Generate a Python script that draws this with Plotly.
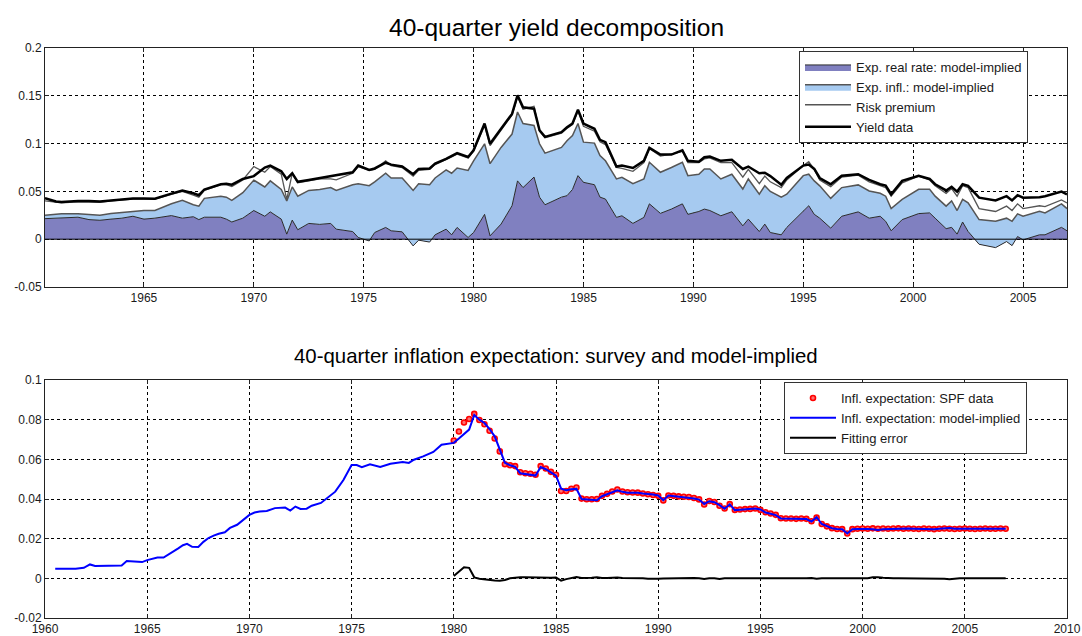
import plotly.graph_objects as go

# ---------------- Top panel: 40-quarter yield decomposition ----------------
yd_dates = [1960.5, 1961.0, 1961.25, 1962.0, 1962.5, 1963.0, 1963.5, 1964.0, 1964.5, 1965.0,
            1965.5, 1966.25, 1966.75, 1967.25, 1967.5, 1967.75, 1968.5, 1968.75, 1969.0, 1969.5,
            1970.0, 1970.5, 1970.75, 1971.25, 1971.5, 1971.75, 1972.0, 1972.5, 1973.0, 1973.5,
            1973.75, 1974.5, 1974.75, 1975.25, 1975.5, 1976.0, 1976.25, 1976.75, 1977.25, 1977.5,
            1978.0, 1978.25, 1978.75, 1979.0, 1979.25, 1979.75, 1980.0, 1980.5, 1980.75, 1981.25,
            1981.75, 1982.0, 1982.25, 1982.75, 1983.0, 1983.25, 1984.0, 1984.25, 1984.5, 1984.75,
            1985.0, 1985.5, 1985.75, 1986.0, 1986.5, 1986.75, 1987.25, 1987.75, 1988.0, 1988.5,
            1989.0, 1989.5, 1989.75, 1990.25, 1990.5, 1990.75, 1991.25, 1991.75, 1992.25, 1992.5,
            1993.0, 1993.25, 1993.5, 1994.0, 1994.25, 1995.0, 1995.25, 1995.5, 1995.75, 1996.25,
            1996.75, 1997.5, 1998.0, 1998.5, 1998.75, 1999.0, 1999.5, 2000.25, 2000.75, 2001.0,
            2001.5, 2001.75, 2002.0, 2002.25, 2002.5, 2003.0, 2003.75, 2004.25, 2004.5, 2004.75,
            2005.0, 2005.75, 2006.0, 2006.75, 2007.0]

# upper edge of the "expected real rate" area
exp_real_rate = [0.0215, 0.0220, 0.0230, 0.0230, 0.0205, 0.0198, 0.0210, 0.0220, 0.0240, 0.0210,
                 0.0220, 0.0247, 0.0220, 0.0235, 0.0205, 0.0230, 0.0230, 0.0210, 0.0180, 0.0220,
                 0.0300, 0.0240, 0.0286, 0.0210, 0.0053, 0.0200, 0.0099, 0.0165, 0.0155, 0.0165,
                 0.0105, 0.0080, 0.0018, -0.0018, 0.0070, 0.0123, 0.0088, 0.0077, -0.0070, -0.0010,
                 -0.0030, 0.0046, 0.0105, 0.0046, 0.0123, 0.0018, 0.0070, 0.0260, 0.0035, 0.0158,
                 0.0350, 0.0610, 0.0540, 0.0650, 0.0440, 0.0360, 0.0440, 0.0455, 0.0520, 0.0665,
                 0.0595, 0.0570, 0.0440, 0.0420, 0.0228, 0.0245, 0.0165, 0.0228, 0.0370, 0.0270,
                 0.0315, 0.0370, 0.0260, 0.0290, 0.0315, 0.0300, 0.0245, 0.0287, 0.0140, 0.0210,
                 0.0080, 0.0158, 0.0070, 0.0046, 0.0123, 0.0290, 0.0350, 0.0260, 0.0220, 0.0116,
                 0.0240, 0.0286, 0.0220, 0.0240, 0.0187, 0.0088, 0.0205, 0.0268, 0.0275, 0.0220,
                 0.0110, 0.0124, 0.0053, 0.0180, 0.0081, -0.0053, -0.0088, -0.0025, -0.0067, 0.0028,
                 -0.0007, 0.0046, 0.0046, 0.0124, 0.0088]

# upper edge of the "expected inflation" area (real rate + expected inflation)
exp_real_plus_infl = [0.0250, 0.0260, 0.0265, 0.0265, 0.0260, 0.0250, 0.0270, 0.0280, 0.0286, 0.0300,
                      0.0300, 0.0370, 0.0406, 0.0360, 0.0346, 0.0427, 0.0450, 0.0440, 0.0406, 0.0487,
                      0.0618, 0.0547, 0.0610, 0.0520, 0.0400, 0.0547, 0.0450, 0.0510, 0.0520, 0.0540,
                      0.0510, 0.0570, 0.0580, 0.0560, 0.0600, 0.0690, 0.0640, 0.0640, 0.0510, 0.0580,
                      0.0570, 0.0640, 0.0725, 0.0690, 0.0745, 0.0720, 0.0820, 0.0998, 0.0790, 0.0960,
                      0.1100, 0.1330, 0.1210, 0.1190, 0.0998, 0.0900, 0.0960, 0.1030, 0.1085, 0.1210,
                      0.1015, 0.1005, 0.0875, 0.0820, 0.0630, 0.0648, 0.0580, 0.0630, 0.0805, 0.0700,
                      0.0750, 0.0805, 0.0665, 0.0680, 0.0735, 0.0735, 0.0630, 0.0680, 0.0525, 0.0630,
                      0.0470, 0.0560, 0.0500, 0.0440, 0.0470, 0.0665, 0.0680, 0.0610, 0.0558, 0.0427,
                      0.0540, 0.0568, 0.0505, 0.0480, 0.0450, 0.0320, 0.0417, 0.0522, 0.0522, 0.0450,
                      0.0346, 0.0400, 0.0300, 0.0417, 0.0380, 0.0205, 0.0187, 0.0220, 0.0187, 0.0265,
                      0.0240, 0.0293, 0.0275, 0.0370, 0.0320]

# upper edge of the "risk premium" area (model-implied yield)
model_yield = [0.0400, 0.0390, 0.0380, 0.0390, 0.0390, 0.0385, 0.0400, 0.0410, 0.0420, 0.0420,
               0.0420, 0.0470, 0.0500, 0.0460, 0.0440, 0.0510, 0.0570, 0.0570, 0.0550, 0.0620,
               0.0760, 0.0700, 0.0760, 0.0680, 0.0415, 0.0690, 0.0590, 0.0610, 0.0630, 0.0630,
               0.0620, 0.0690, 0.0760, 0.0720, 0.0730, 0.0820, 0.0770, 0.0750, 0.0660, 0.0720,
               0.0730, 0.0780, 0.0830, 0.0860, 0.0890, 0.0850, 0.0920, 0.1190, 0.0980, 0.1140,
               0.1300, 0.1490, 0.1360, 0.1390, 0.1130, 0.1060, 0.1110, 0.1160, 0.1200, 0.1340,
               0.1180, 0.1130, 0.1020, 0.0990, 0.0750, 0.0740, 0.0710, 0.0800, 0.0950, 0.0870,
               0.0890, 0.0920, 0.0800, 0.0800, 0.0840, 0.0850, 0.0800, 0.0800, 0.0650, 0.0730,
               0.0580, 0.0660, 0.0600, 0.0540, 0.0620, 0.0770, 0.0810, 0.0730, 0.0620, 0.0550,
               0.0650, 0.0670, 0.0600, 0.0560, 0.0540, 0.0450, 0.0590, 0.0660, 0.0620, 0.0560,
               0.0480, 0.0530, 0.0450, 0.0560, 0.0540, 0.0320, 0.0290, 0.0346, 0.0300, 0.0370,
               0.0320, 0.0350, 0.0340, 0.0410, 0.0380]

yield_data = [0.0430, 0.0395, 0.0388, 0.0400, 0.0400, 0.0395, 0.0405, 0.0417, 0.0425, 0.0425,
              0.0424, 0.0477, 0.0510, 0.0480, 0.0460, 0.0520, 0.0575, 0.0580, 0.0570, 0.0630,
              0.0660, 0.0750, 0.0770, 0.0710, 0.0630, 0.0690, 0.0600, 0.0620, 0.0640, 0.0665,
              0.0670, 0.0700, 0.0770, 0.0725, 0.0740, 0.0800, 0.0780, 0.0760, 0.0680, 0.0735,
              0.0740, 0.0790, 0.0840, 0.0870, 0.0900, 0.0860, 0.0930, 0.1210, 0.0998, 0.1155,
              0.1310, 0.1505, 0.1380, 0.1365, 0.1140, 0.1070, 0.1120, 0.1170, 0.1210, 0.1355,
              0.1210, 0.1155, 0.1040, 0.1015, 0.0760, 0.0770, 0.0745, 0.0820, 0.0955, 0.0885,
              0.0885, 0.0930, 0.0820, 0.0810, 0.0857, 0.0865, 0.0820, 0.0830, 0.0735, 0.0760,
              0.0690, 0.0695, 0.0660, 0.0570, 0.0640, 0.0770, 0.0780, 0.0735, 0.0640, 0.0575,
              0.0664, 0.0680, 0.0620, 0.0575, 0.0560, 0.0470, 0.0610, 0.0664, 0.0630, 0.0575,
              0.0510, 0.0547, 0.0498, 0.0575, 0.0558, 0.0434, 0.0406, 0.0450, 0.0406, 0.0460,
              0.0434, 0.0440, 0.0450, 0.0498, 0.0470]

top_xticks = [1965, 1970, 1975, 1980, 1985, 1990, 1995, 2000, 2005]
top_yticks = [-0.05, 0, 0.05, 0.1, 0.15, 0.2]
top_ytext = ["-0.05", "0", "0.05", "0.1", "0.15", "0.2"]

# ---------------- Bottom panel: inflation expectation ----------------
early_model_dates = [1960.5, 1961.0, 1961.5, 1961.9, 1962.2, 1962.45, 1963.0, 1963.5, 1963.75, 1964.0,
                     1964.25, 1964.75, 1965.0, 1965.25, 1965.5, 1965.8, 1966.0, 1966.25, 1966.5, 1966.75,
                     1966.95, 1967.2, 1967.5, 1967.75, 1968.0, 1968.25, 1968.5, 1968.8, 1969.05, 1969.4,
                     1969.75, 1970.0, 1970.25, 1970.5, 1970.85, 1971.25, 1971.75, 1972.0, 1972.25, 1972.5,
                     1972.8, 1973.05, 1973.5, 1973.9, 1974.2, 1974.6, 1975.0, 1975.25, 1975.5, 1975.9,
                     1976.4, 1976.9, 1977.5, 1977.8, 1978.05, 1978.5, 1979.0, 1979.4, 1979.75]
early_model_infl = [0.0048, 0.0048, 0.0048, 0.0053, 0.0070, 0.0062, 0.0062, 0.0065, 0.0065, 0.0087,
                    0.0085, 0.0082, 0.0092, 0.0100, 0.0105, 0.0105, 0.0118, 0.0130, 0.0150, 0.0167,
                    0.0174, 0.0159, 0.0158, 0.0184, 0.0203, 0.0215, 0.0225, 0.0232, 0.0254, 0.0270,
                    0.0300, 0.0320, 0.0332, 0.0337, 0.0340, 0.0354, 0.0357, 0.0342, 0.0362, 0.0350,
                    0.0351, 0.0366, 0.0380, 0.0410, 0.0437, 0.0496, 0.0571, 0.0571, 0.0560, 0.0575,
                    0.0561, 0.0578, 0.0587, 0.0582, 0.0598, 0.0615, 0.0637, 0.0674, 0.0680]

# quarterly, 1980Q1 .. 2007Q1
spf_dates = [1980 + 0.25 * i for i in range(109)]
spf_infl = [0.0695, 0.0740, 0.0786, 0.0803,
            0.0829, 0.0798, 0.0777, 0.0744,
            0.0705, 0.0640, 0.0575, 0.0570,
            0.0566, 0.0535, 0.0530, 0.0527,
            0.0522, 0.0566, 0.0554, 0.0537,
            0.0522, 0.0440, 0.0440, 0.0452,
            0.0458, 0.0402, 0.0399, 0.0399,
            0.0400, 0.0416, 0.0426, 0.0438,
            0.0448, 0.0438, 0.0434, 0.0433,
            0.0432, 0.0428, 0.0424, 0.0420,
            0.0416, 0.0393, 0.0418, 0.0416,
            0.0413, 0.0411, 0.0410, 0.0405,
            0.0398, 0.0372, 0.0390, 0.0385,
            0.0366, 0.0352, 0.0374, 0.0345,
            0.0347, 0.0349, 0.0350, 0.0352,
            0.0345, 0.0333, 0.0327, 0.0320,
            0.0303, 0.0302, 0.0302, 0.0300,
            0.0302, 0.0300, 0.0288, 0.0306,
            0.0274, 0.0262, 0.0253, 0.0249,
            0.0248, 0.0226, 0.0248, 0.0250,
            0.0251, 0.0250, 0.0252, 0.0250,
            0.0251, 0.0250, 0.0251, 0.0252,
            0.0250, 0.0251, 0.0250, 0.0249,
            0.0251, 0.0250, 0.0248, 0.0250,
            0.0251, 0.0250, 0.0249, 0.0250,
            0.0251, 0.0250, 0.0249, 0.0250,
            0.0251, 0.0250, 0.0250, 0.0251,
            0.0250]
late_model_infl = [0.0683, 0.0705, 0.0730, 0.0750,
                   0.0824, 0.0800, 0.0783, 0.0753,
                   0.0716, 0.0652, 0.0583, 0.0570,
                   0.0562, 0.0530, 0.0525, 0.0523,
                   0.0518, 0.0561, 0.0550, 0.0534,
                   0.0518, 0.0452, 0.0444, 0.0449,
                   0.0451, 0.0400, 0.0397, 0.0396,
                   0.0394, 0.0414, 0.0424, 0.0434,
                   0.0444, 0.0436, 0.0432, 0.0432,
                   0.0432, 0.0428, 0.0426, 0.0423,
                   0.0418, 0.0394, 0.0418, 0.0415,
                   0.0412, 0.0409, 0.0408, 0.0403,
                   0.0397, 0.0375, 0.0389, 0.0384,
                   0.0369, 0.0351, 0.0373, 0.0344,
                   0.0346, 0.0349, 0.0350, 0.0352,
                   0.0347, 0.0332, 0.0326, 0.0319,
                   0.0302, 0.0301, 0.0301, 0.0299,
                   0.0301, 0.0299, 0.0286, 0.0308,
                   0.0274, 0.0262, 0.0253, 0.0249,
                   0.0248, 0.0226, 0.0248, 0.0249,
                   0.0250, 0.0249, 0.0247, 0.0244,
                   0.0248, 0.0249, 0.0250, 0.0251,
                   0.0249, 0.0251, 0.0250, 0.0249,
                   0.0251, 0.0250, 0.0248, 0.0250,
                   0.0253, 0.0254, 0.0250, 0.0250,
                   0.0251, 0.0250, 0.0249, 0.0250,
                   0.0251, 0.0250, 0.0250, 0.0251,
                   0.0250]
fit_error = [0.0012, 0.0035, 0.0056, 0.0053,
             0.0005, -0.0002, -0.0006, -0.0009,
             -0.0011, -0.0012, -0.0008, 0.0000,
             0.0004, 0.0005, 0.0005, 0.0004,
             0.0004, 0.0005, 0.0004, 0.0003,
             0.0004, -0.0012, -0.0004, 0.0003,
             0.0007, 0.0002, 0.0002, 0.0003,
             0.0006, 0.0002, 0.0002, 0.0004,
             0.0004, 0.0002, 0.0002, 0.0001,
             0.0000, 0.0000, -0.0002, -0.0003,
             -0.0002, -0.0001, 0.0000, 0.0001,
             0.0001, 0.0002, 0.0002, 0.0002,
             0.0001, -0.0003, 0.0001, 0.0001,
             -0.0003, 0.0001, 0.0001, 0.0001,
             0.0001, 0.0000, 0.0000, 0.0000,
             -0.0002, 0.0001, 0.0001, 0.0001,
             0.0001, 0.0001, 0.0001, 0.0001,
             0.0001, 0.0001, 0.0002, -0.0002,
             0.0000, 0.0000, 0.0000, 0.0000,
             0.0000, 0.0000, 0.0000, 0.0001,
             0.0001, 0.0001, 0.0005, 0.0006,
             0.0003, 0.0001, 0.0001, 0.0001,
             0.0001, 0.0000, 0.0000, 0.0000,
             0.0000, 0.0000, 0.0000, 0.0000,
             -0.0002, -0.0004, -0.0001, 0.0000,
             0.0000, 0.0000, 0.0000, 0.0000,
             0.0000, 0.0000, 0.0000, 0.0000,
             0.0000]

bot_xticks = [1960, 1965, 1970, 1975, 1980, 1985, 1990, 1995, 2000, 2005, 2010]
bot_yticks = [-0.02, 0, 0.02, 0.04, 0.06, 0.08, 0.1]
bot_ytext = ["-0.02", "0", "0.02", "0.04", "0.06", "0.08", "0.1"]

model_dates = early_model_dates + spf_dates
model_infl = early_model_infl + late_model_infl

FONT = "Liberation Sans, Arial, Helvetica, sans-serif"

fig = go.Figure()

# top panel traces
fig.add_trace(go.Scatter(x=yd_dates, y=exp_real_rate, name="Exp. real rate: model-implied",
                         mode="lines", fill="tozeroy", fillcolor="#8080C0",
                         line=dict(color="#2a2a2a", width=1), xaxis="x", yaxis="y", legend="legend"))
fig.add_trace(go.Scatter(x=yd_dates, y=exp_real_plus_infl, name="Exp. infl.: model-implied",
                         mode="lines", fill="tonexty", fillcolor="#A6CAF0",
                         line=dict(color="#555555", width=1.5), xaxis="x", yaxis="y", legend="legend"))
fig.add_trace(go.Scatter(x=yd_dates, y=model_yield, name="Risk premium",
                         mode="lines", fill="tonexty", fillcolor="#FFFFFF",
                         line=dict(color="#555555", width=1.3), xaxis="x", yaxis="y", legend="legend"))
fig.add_trace(go.Scatter(x=yd_dates, y=yield_data, name="Yield data", mode="lines",
                         line=dict(color="#000000", width=2.5), xaxis="x", yaxis="y", legend="legend"))

# bottom panel traces
fig.add_trace(go.Scatter(x=spf_dates, y=spf_infl, name="Infl. expectation: SPF data", mode="markers",
                         marker=dict(symbol="circle", size=5, color="#FF7070",
                                     line=dict(width=1.6, color="#FF0000")),
                         xaxis="x2", yaxis="y2", legend="legend2"))
fig.add_trace(go.Scatter(x=model_dates, y=model_infl, name="Infl. expectation: model-implied", mode="lines",
                         line=dict(color="#0000FF", width=2), xaxis="x2", yaxis="y2", legend="legend2"))
fig.add_trace(go.Scatter(x=spf_dates, y=fit_error, name="Fitting error", mode="lines",
                         line=dict(color="#000000", width=2), xaxis="x2", yaxis="y2", legend="legend2"))

axis_common = dict(showline=True, linecolor="#222222", linewidth=1, mirror="ticks",
                   ticks="inside", ticklen=4, tickcolor="#222222", automargin=False,
                   showgrid=True, gridcolor="#000000", gridwidth=1, griddash="dot",
                   zeroline=False, tickfont=dict(family=FONT, size=12, color="#1a1a1a"))

top_bottom = (618 - 287) / 570.0
bot_top = (618 - 380) / 570.0

legend_common = dict(xanchor="left", yanchor="top", bgcolor="white", bordercolor="#333333",
                     borderwidth=1, traceorder="normal", itemwidth=46, tracegroupgap=0,
                     font=dict(family=FONT, size=13, color="#1a1a1a"))

fig.update_layout(
    width=1082, height=636,
    margin=dict(l=45, r=15, t=48, b=18, autoexpand=False),
    paper_bgcolor="white", plot_bgcolor="white",
    font=dict(family=FONT, size=12, color="#000000"),
    xaxis=dict(domain=[0, 1], range=[1960.5, 2007.0], tickvals=top_xticks,
               ticktext=[str(v) for v in top_xticks], anchor="y", **axis_common),
    yaxis=dict(domain=[top_bottom, 1], range=[-0.05, 0.2], tickvals=top_yticks,
               ticktext=top_ytext, anchor="x", **axis_common),
    xaxis2=dict(domain=[0, 1], range=[1960, 2010], tickvals=bot_xticks,
                ticktext=[str(v) for v in bot_xticks], anchor="y2", **axis_common),
    yaxis2=dict(domain=[0, bot_top], range=[-0.02, 0.1], tickvals=bot_yticks,
                ticktext=bot_ytext, anchor="x2", **axis_common),
    legend=dict(x=(799 - 45) / 1022.0, y=(618 - 51) / 570.0, **legend_common),
    legend2=dict(x=(784 - 45) / 1022.0, y=(618 - 382) / 570.0, **legend_common),
    showlegend=True,
    shapes=[dict(type="line", xref="x domain", yref="y", x0=0, x1=1, y0=0, y1=0,
                 line=dict(color="#000000", width=1), layer="above")],
    annotations=[
        dict(text="40-quarter yield decomposition", x=0.5, y=(618 - 27) / 570.0, xref="paper", yref="paper",
             xanchor="center", yanchor="middle", showarrow=False,
             font=dict(family=FONT, size=24.5, color="#000000")),
        dict(text="40-quarter inflation expectation: survey and model-implied", x=0.5, y=(618 - 356) / 570.0,
             xref="paper", yref="paper", xanchor="center", yanchor="middle", showarrow=False,
             font=dict(family=FONT, size=20.4, color="#000000")),
    ],
)

fig.write_html("out.html", config={"displayModeBar": False},
               post_script="document.body.style.margin='0';document.body.style.padding='0';"
                           "document.body.style.overflow='hidden';")
